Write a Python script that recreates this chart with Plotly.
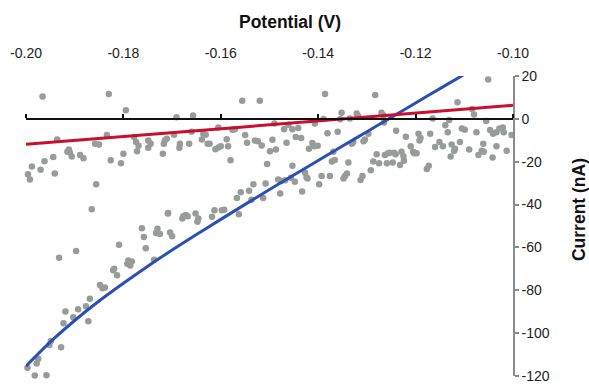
import plotly.graph_objects as go

# Measured data points (Potential in V, Current in nA)
dot_v = [
    -0.1966, -0.1830, -0.1795, -0.1691, -0.1657, -0.1936, -0.1834, -0.1858, -0.1850, -0.1778,
    -0.1774, -0.1769, -0.1772, -0.1749, -0.1744, -0.1749, -0.1715, -0.1711, -0.1717, -0.1696,
    -0.1684, -0.1685, -0.1719, -0.1912, -0.1910, -0.1915, -0.1906, -0.1889, -0.1882, -0.1944,
    -0.1962, -0.1988, -0.1970, -0.1996, -0.1992, -0.1941, -0.1826, -0.1800, -0.1805, -0.1856,
    -0.1865, -0.1709, -0.1762, -0.1758, -0.1730, -0.1733, -0.1725, -0.1754, -0.1809, -0.1932,
    -0.1897, -0.1819, -0.1821, -0.1813, -0.1790, -0.1786, -0.1783, -0.1792, -0.1737, -0.1848,
    -0.1843, -0.1838, -0.1869, -0.1877, -0.1919, -0.1893, -0.1903, -0.1923, -0.1872, -0.1949,
    -0.1952, -0.1928, -0.1975, -0.1978, -0.1997, -0.1982, -0.1958, -0.1708, -0.1704, -0.1700,
    -0.1677, -0.1672, -0.1668, -0.1679, -0.1652, -0.1646, -0.1648, -0.1613, -0.1618, -0.1598,
    -0.1593, -0.1563, -0.1567, -0.1559, -0.1542, -0.1537, -0.1533, -0.1513, -0.1508, -0.1482,
    -0.1476, -0.1468, -0.1478, -0.1448, -0.1433, -0.1422, -0.1456, -0.1556, -0.1520, -0.1386,
    -0.1352, -0.1355, -0.1335, -0.1660, -0.1665, -0.1636, -0.1631, -0.1639, -0.1627, -0.1623,
    -0.1605, -0.1576, -0.1571, -0.1588, -0.1611, -0.1605, -0.1600, -0.1585, -0.1550, -0.1546,
    -0.1530, -0.1524, -0.1516, -0.1494, -0.1499, -0.1487, -0.1490, -0.1470, -0.1461, -0.1453,
    -0.1441, -0.1465, -0.1446, -0.1435, -0.1412, -0.1408, -0.1419, -0.1401, -0.1407, -0.1389,
    -0.1381, -0.1360, -0.1580, -0.1505, -0.1453, -0.1372, -0.1366, -0.1338, -0.1427, -0.1424,
    -0.1393, -0.1376, -0.1345, -0.1341, -0.1398, -0.1328, -0.1331, -0.1369, -0.1348, -0.1051,
    -0.1283, -0.1114, -0.1321, -0.1318, -0.1270, -0.1266, -0.1084, -0.1080, -0.1165, -0.1131,
    -0.1055, -0.1265, -0.1240, -0.1220, -0.1194, -0.1190, -0.1192, -0.1170, -0.1139, -0.1134,
    -0.1105, -0.1099, -0.1075, -0.1047, -0.1041, -0.1034, -0.1028, -0.1021, -0.1019, -0.1003,
    -0.1297, -0.1304, -0.1307, -0.1210, -0.1203, -0.1198, -0.1205, -0.1151, -0.1160, -0.1144,
    -0.1126, -0.1119, -0.1121, -0.1109, -0.1090, -0.1071, -0.1064, -0.1060, -0.1061, -0.1034,
    -0.1013, -0.1042, -0.1128, -0.1280, -0.1287, -0.1275, -0.1263, -0.1257, -0.1253, -0.1244,
    -0.1241, -0.1229, -0.1225, -0.1259, -0.1247, -0.1232, -0.1224, -0.1292, -0.1177, -0.1173,
    -0.1309, -0.1313,
]
dot_i = [
    10.4, 11.6, 4.0, 0.8, 1.6, -9.6, -7.5, -11.6, -12.0, -8.5,
    -10.8, -12.5, -15.1, -10.1, -11.6, -13.5, -10.1, -9.3, -11.6, -7.4,
    -11.6, -13.5, -16.3, -14.3, -15.7, -15.4, -17.6, -16.9, -18.4, -17.8,
    -19.8, -22.2, -23.7, -25.8, -28.3, -25.5, -19.3, -16.3, -20.7, -30.5,
    -42.2, -44.2, -51.0, -55.1, -51.3, -53.3, -53.7, -60.4, -58.7, -64.8,
    -61.7, -69.9, -70.7, -73.0, -66.1, -68.4, -66.6, -67.6, -65.7, -77.5,
    -79.0, -78.7, -84.0, -87.4, -89.9, -88.9, -92.6, -95.4, -94.5, -103.7,
    -105.5, -106.6, -112.0, -114.2, -116.1, -119.8, -119.6, -43.9, -53.0, -54.8,
    -45.4, -44.9, -45.4, -46.5, -44.2, -46.5, -48.0, -42.6, -45.7, -42.6,
    -42.4, -44.5, -36.9, -34.3, -33.5, -37.8, -30.5, -36.9, -30.2, -28.3,
    -29.0, -28.7, -34.8, -29.3, -33.9, -27.8, -27.5, 8.5, 8.5, 11.6,
    2.8, -0.2, 0.2, -6.0, -11.6, -7.0, -7.4, -9.6, -11.6, -11.6,
    -4.0, -5.1, -4.8, -9.5, -14.2, -13.4, -12.8, -12.8, -7.5, -11.1,
    -10.1, -10.4, -12.4, -9.8, -15.1, -14.3, -2.2, -4.8, -2.8, -4.8,
    -4.3, -11.1, -8.5, -8.9, -11.3, -12.8, -13.9, -12.6, -2.2, -0.1,
    -6.7, -6.0, -19.3, -21.1, -21.9, -19.9, -19.2, -20.4, -25.2, -27.2,
    -26.7, -26.7, -26.7, -25.5, -30.5, -10.8, -11.6, -15.4, -27.8, 18.4,
    11.1, 7.8, 2.5, 1.3, 2.8, 1.7, 4.6, 2.0, 0.2, -0.5,
    -1.0, -1.7, -5.5, -8.3, -7.0, -8.9, -10.1, -7.0, -3.0, -6.3,
    -4.5, -5.1, -6.3, -5.2, -7.0, -6.3, -4.5, -4.0, -6.3, -7.5,
    -7.0, -9.6, -10.4, -12.8, -16.1, -16.1, -15.4, -10.8, -13.1, -12.8,
    -12.0, -13.9, -14.9, -10.8, -14.3, -16.9, -14.9, -15.4, -11.6, -12.8,
    -14.9, -18.0, -17.6, -16.5, -19.9, -20.7, -16.9, -16.1, -15.8, -15.8,
    -16.5, -15.4, -17.4, -20.7, -20.4, -21.5, -19.6, -24.0, -23.4, -21.9,
    -26.7, -28.5,
]

# Linear fit (red)
red_v = [-0.200, -0.100]
red_i = [-11.9, 6.3]

# Curved fit (blue)
blue_v = [-0.200, -0.195, -0.190, -0.185, -0.180, -0.175, -0.170, -0.165,
          -0.160, -0.155, -0.150, -0.145, -0.140, -0.135, -0.130, -0.125,
          -0.120, -0.115, -0.1102]
blue_i = [-115.4, -104.1, -94.1, -85.0, -76.7, -68.8, -61.2, -54.0,
          -46.9, -39.9, -33.0, -26.2, -19.4, -12.7, -6.0, 0.7,
          7.4, 14.1, 20.5]

x_ticks = [-0.20, -0.18, -0.16, -0.14, -0.12, -0.10]
x_ticktext = ["-0.20", "-0.18", "-0.16", "-0.14", "-0.12", "-0.10"]
y_ticks = [20, 0, -20, -40, -60, -80, -100, -120]
y_ticktext = ["20", "0", "-20", "-40", "-60", "-80", "-100", "-120"]

X_RANGE = [-0.2, -0.1]
Y_RANGE = [-120, 20]

FONT = "Liberation Sans, Arial, sans-serif"

fig = go.Figure()
fig.add_trace(go.Scatter(
    x=dot_v, y=dot_i, mode="markers",
    marker=dict(size=6.5, color="#989c99"),
    cliponaxis=False, showlegend=False, hoverinfo="skip",
))
fig.add_trace(go.Scatter(
    x=blue_v, y=blue_i, mode="lines",
    line=dict(color="#2b50b4", width=3, shape="spline", smoothing=0.6),
    showlegend=False, hoverinfo="skip",
))
fig.add_trace(go.Scatter(
    x=red_v, y=red_i, mode="lines", xaxis="x2",
    line=dict(color="#c8102e", width=3),
    showlegend=False, hoverinfo="skip",
))

zero_pos = (0 - Y_RANGE[0]) / (Y_RANGE[1] - Y_RANGE[0])

fig.update_layout(
    width=589, height=390,
    margin=dict(l=26, r=76, t=76, b=6),
    paper_bgcolor="white", plot_bgcolor="white",
    font=dict(family=FONT, size=14, color="#222222"),
    xaxis=dict(
        range=X_RANGE, side="top", showgrid=False, zeroline=False,
        showline=False, tickmode="array", tickvals=x_ticks, ticktext=x_ticktext,
        ticks="outside", ticklen=11, tickcolor="rgba(0,0,0,0)",
        tickfont=dict(size=14, color="#222222"), ticklabeloverflow="allow",
    ),
    xaxis2=dict(
        range=X_RANGE, overlaying="x", anchor="free", position=zero_pos,
        side="top", showgrid=False, zeroline=False, showline=True,
        linecolor="#111111", linewidth=1.5,
        tickmode="array", tickvals=x_ticks, showticklabels=False,
        ticks="outside", ticklen=4, tickwidth=1.5, tickcolor="#111111",
    ),
    yaxis=dict(
        range=Y_RANGE, side="right", showgrid=False, zeroline=False,
        showline=True, linecolor="#8a8a8a", linewidth=1.5,
        tickmode="array", tickvals=y_ticks, ticktext=y_ticktext,
        ticks="outside", ticklen=4, tickwidth=1.5, tickcolor="#8a8a8a",
        tickfont=dict(size=14, color="#222222"), ticklabeloverflow="allow",
    ),
    annotations=[
        dict(text="<b>Potential (V)</b>", xref="paper", yref="paper",
             x=0.542, y=1.1786, xanchor="center", yanchor="middle",
             showarrow=False, font=dict(size=17.5, color="#111111", family=FONT)),
        dict(text="<b>Current (nA)</b>", xref="paper", yref="paper",
             x=1.1366, y=0.555, xanchor="center", yanchor="middle",
             textangle=-90, showarrow=False,
             font=dict(size=17.5, color="#111111", family=FONT)),
    ],
)

fig.write_html("out.html")
